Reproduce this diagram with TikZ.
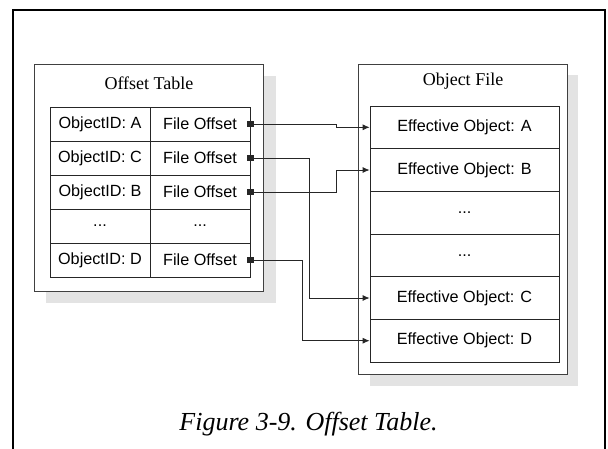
\documentclass[tikz,border=0pt]{standalone}
\usepackage{fontspec}
\setmainfont{Liberation Serif}
\setsansfont{Liberation Sans}
\usetikzlibrary{arrows.meta}
\begin{document}
\begin{tikzpicture}[x=1pt,y=-1pt,
    cell/.style={draw=black!85,line width=0.8pt,inner sep=0pt,
      font=\sffamily\fontsize{16.2}{19}\selectfont},
    idcell/.style={cell,minimum width=100pt,minimum height=34pt},
    rowcell/.style={cell,minimum width=189pt,minimum height=42.67pt},
    shadowbox/.style={fill=black!11,draw=none},
    outerbox/.style={fill=white,draw=black!75,line width=0.8pt},
    boxtitle/.style={font=\fontsize{18}{21}\selectfont},
    link/.style={draw=black!85,line width=0.8pt,
      {Square[length=6pt,width=6pt]}-{Latex[length=7pt,width=6pt]},
      shorten <=-3pt}]
  \useasboundingbox (0,0) rectangle (608,448);
  % page frame
  \draw[line width=2pt] (13,452) -- (13,10) -- (605,10) -- (605,452);
  % boxes with shadows
  \fill[shadowbox] (46,76) rectangle (276,303);
  \fill[shadowbox] (370,75) rectangle (578,386);
  \draw[outerbox] (34,64) rectangle (263,291);
  \draw[outerbox] (358,64) rectangle (567,374);
  \node[boxtitle] (ttl) at (149,83) {Offset Table};
  \node[boxtitle] (ftl) at (463,81) {Object File};
  % offset table
  \node[idcell] (id-a) at (100,124) {ObjectID: A};
  \node[idcell] (id-c) at (100,158) {ObjectID: C};
  \node[idcell] (id-b) at (100,192) {ObjectID: B};
  \node[idcell] (id-x) at (100,226) {...};
  \node[idcell] (id-d) at (100,260) {ObjectID: D};
  \node[idcell] (off-a) at (200,124) {File Offset};
  \node[idcell] (off-c) at (200,158) {File Offset};
  \node[idcell] (off-b) at (200,192) {File Offset};
  \node[idcell] (off-x) at (200,226) {...};
  \node[idcell] (off-d) at (200,260) {File Offset};
  % object file
  \node[rowcell] (eo-a) at (464.5,127.3) {Effective Object: A};
  \node[rowcell] (eo-b) at (464.5,170) {Effective Object: B};
  \node[rowcell] (eo-x) at (464.5,212.7) {...};
  \node[rowcell] (eo-y) at (464.5,255.3) {...};
  \node[rowcell] (eo-c) at (464.5,298) {Effective Object: C};
  \node[rowcell] (eo-d) at (464.5,340.7) {Effective Object: D};
  % offsets
  \draw[link] (off-a.east) -- ++(86,0) |- (eo-a.west);
  \draw[link] (off-c.east) -- ++(59,0) |- (eo-c.west);
  \draw[link] (off-b.east) -- ++(86,0) |- (eo-b.west);
  \draw[link] (off-d.east) -- ++(52,0) |- (eo-d.west);
  \node[font=\itshape\fontsize{26}{31}\selectfont,anchor=base] (cap) at (308.5,430) {Figure 3-9. Offset Table.};
\end{tikzpicture}
\end{document}
